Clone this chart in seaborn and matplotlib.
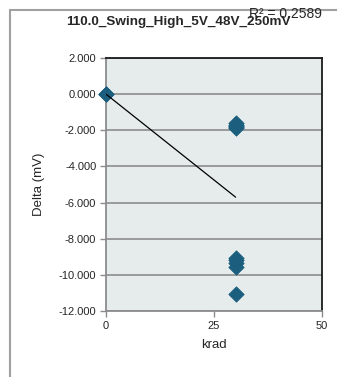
import numpy as np
import pandas as pd
import matplotlib
matplotlib.use("Agg")
import matplotlib.pyplot as plt
from matplotlib.lines import Line2D
import seaborn as sns

# ── Data ────────────────────────────────────────────────
krad = [0, 0, 30, 30, 30, 30, 30, 30, 30, 30, 30, 30]
delta_mv = [0.0, 0.0, -1.62, -1.70, -1.76, -1.82, -1.90,
            -9.05, -9.20, -9.35, -9.55, -11.05]
y_ticks = [2, 0, -2, -4, -6, -8, -10, -12]
x_ticks = [0, 25, 50]
title = "110.0_Swing_High_5V_48V_250mV"
r2_text = "R² = 0.2589"

df = pd.DataFrame({"krad": krad, "delta": delta_mv})

# ── Config ──────────────────────────────────────────────
sns.set_theme(style="white")
plt.rcParams['font.family'] = ['Liberation Sans', 'DejaVu Sans']
MARKER = "#1b5e7e"
GRID = "#8c8c8c"

fig = plt.figure(figsize=(3.37, 3.77), dpi=100)
fig.patch.set_facecolor("white")
ax = fig.add_axes([106 / 337, 1 - 311 / 377, 216 / 337, 253 / 377])
ax.set_facecolor("#e6ecec")

# outer chart border (left and top visible)
fig.add_artist(Line2D([10 / 337, 10 / 337], [1 - 10 / 377, 0], color="#a0a0a0", lw=1.5))
fig.add_artist(Line2D([10 / 337, 1], [1 - 10 / 377, 1 - 10 / 377], color="#a0a0a0", lw=1.5))

# gridlines
for v in y_ticks:
    ax.axhline(v, color=GRID, lw=1.2, zorder=1)

# linear trendline through the data range
slope, intercept = np.polyfit(df["krad"], df["delta"], 1)
xs = np.array([df["krad"].min(), df["krad"].max()])
ax.plot(xs, slope * xs + intercept, color="black", lw=0.9, zorder=4)

sns.scatterplot(data=df, x="krad", y="delta", marker="D", s=62, color=MARKER,
                edgecolor=MARKER, linewidth=0.5, ax=ax, zorder=3, clip_on=False)

ax.set_xlim(0, 50)
ax.set_ylim(-12, 2)
ax.set_xticks(x_ticks)
ax.set_yticks(y_ticks)
ax.set_yticklabels([f"{v:.3f}" for v in y_ticks])
ax.tick_params(axis="both", direction="out", length=4, width=1, color=GRID,
               labelsize=8, pad=3, left=True, bottom=True)

for side in ["top", "right"]:
    ax.spines[side].set_color("#1a1a1a")
    ax.spines[side].set_linewidth(1.3)
for side in ["left", "bottom"]:
    ax.spines[side].set_color(GRID)
    ax.spines[side].set_linewidth(1.3)

ax.set_xlabel("krad", fontsize=9.5, labelpad=6)
ax.set_ylabel("Delta (mV)", fontsize=9.5, labelpad=10)

fig.text(178 / 337, 1 - 22 / 377, title, ha="center", va="center",
         fontsize=9.7, fontweight="bold")
fig.text(322 / 337, 1 - 14 / 377, r2_text, ha="right", va="center", fontsize=10)

plt.savefig("out.png", dpi=100, facecolor="white")
plt.close()
